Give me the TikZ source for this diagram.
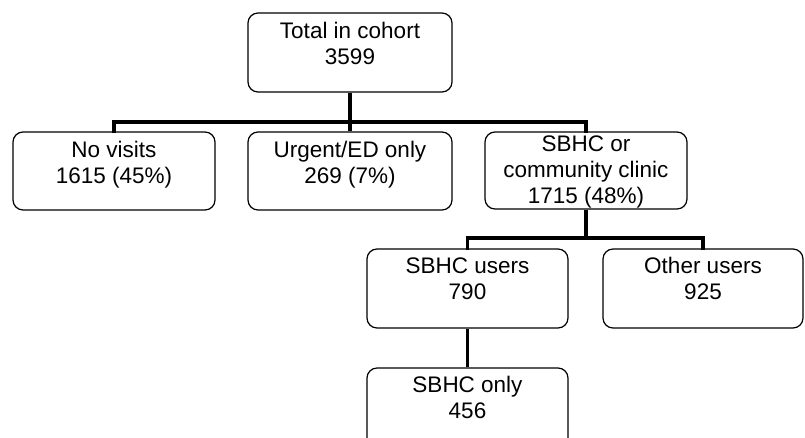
\documentclass[tikz,border=0pt]{standalone}
\usepackage{fontspec}
\setmainfont{Liberation Sans}
\begin{document}
\begin{tikzpicture}[x=1pt,y=-1pt,
  box/.style={draw, rounded corners=10pt, line width=1.2pt, inner sep=0pt},
  lbl/.style={anchor=north, align=center, inner sep=0pt,
    font=\fontsize{22.5}{26}\selectfont},
  conn/.style={line width=3.2pt}]
\clip (0,0) rectangle (805,437);
\fill[white] (0,0) rectangle (805,437);
% boxes
\node[box, minimum width=204pt, minimum height=79pt] (top) at (350,52.5) {};
\node[box, minimum width=202pt, minimum height=78pt] (nov) at (114,171) {};
\node[box, minimum width=204pt, minimum height=78pt] (urg) at (350,171) {};
\node[box, minimum width=202pt, minimum height=77pt] (sb) at (586,170.5) {};
\node[box, minimum width=201pt, minimum height=79pt] (sbu) at (467.5,288.5) {};
\node[box, minimum width=200pt, minimum height=79pt] (oth) at (703,288.5) {};
\node[box, minimum width=201pt, minimum height=100pt] (only) at (467.5,418) {};
% labels
\node[lbl] (ttop) at ([yshift=-10pt]top.north) {Total in cohort\\3599};
\node[lbl] (tnov) at ([yshift=-10pt]nov.north) {No visits\\1615 (45\%)};
\node[lbl] (turg) at ([yshift=-10pt]urg.north) {Urgent/ED only\\269 (7\%)};
\node[lbl] (tsb) at ([yshift=-4pt]sb.north) {SBHC or\\community clinic\\1715 (48\%)};
\node[lbl] (tsbu) at ([yshift=-9pt]sbu.north) {SBHC users\\790};
\node[lbl] (toth) at ([yshift=-9pt]oth.north) {Other users\\925};
\node[lbl] (tonly) at ([yshift=-9pt]only.north) {SBHC only\\456};
% connectors
\coordinate (b1) at (350,122);
\coordinate (b2) at (586,238);
\draw[conn] (top.south) -- (b1);
\draw[conn, line cap=rect] (nov.north) |- (b1) -| (sb.north);
\draw[conn] (b1) -- (urg.north);
\draw[conn] (sb.south) -- (b2);
\draw[conn, line cap=rect] (sbu.north) |- (b2) -| (oth.north);
\draw[conn] (sbu.south) -- (only.north);
\end{tikzpicture}
\end{document}
